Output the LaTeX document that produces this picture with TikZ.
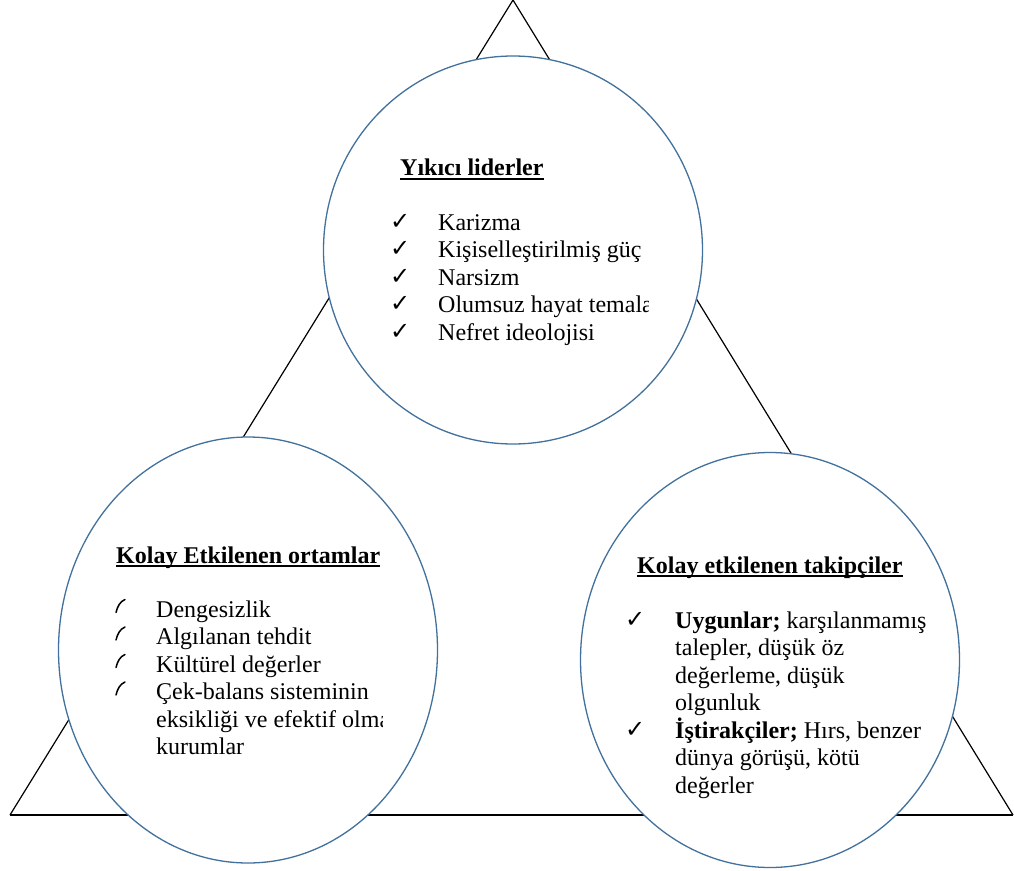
\documentclass[tikz,border=0pt]{standalone}
\usepackage{fontspec}
\setmainfont{Liberation Serif}
\newfontfamily\symfont{DejaVu Sans}
\usetikzlibrary{shapes.geometric}
\definecolor{circ}{RGB}{65,113,156}
\definecolor{baseline}{RGB}{89,89,89}
\begin{document}
\begin{tikzpicture}[x=1pt,y=-1pt,
  txt/.style={anchor=base west, inner sep=0pt, font=\fontsize{24}{27.5}\selectfont},
  ttl/.style={anchor=base west, inner sep=0pt, font=\fontsize{24}{27.5}\selectfont\bfseries},
  chk/.style={anchor=base west, inner sep=0pt, font=\symfont\fontsize{24}{26}\selectfont},
  bubble/.style={draw=circ, line width=1.3pt, fill=white, ellipse, inner sep=0pt},
  uline/.style={line width=1.4pt},
  hook/.style={line width=1.5pt, line cap=round}]
\useasboundingbox (0,0) rectangle (1014,870);
% triangle
\coordinate (A) at (513,0);
\coordinate (B) at (10,815);
\coordinate (C) at (1013,815);
\draw[line width=1.2pt] (B) -- (A) -- (C);
\draw[baseline, line width=2pt] (B) -- (C);
% circles
\node[bubble, minimum width=379pt, minimum height=388pt] (top) at (513,250) {};
\node[bubble, minimum width=379pt, minimum height=426pt] (left) at (248,650) {};
\node[bubble, minimum width=379pt, minimum height=415pt] (right) at (770,660) {};
% top text
\node[ttl] (t1) at (400,175) {Yıkıcı liderler};
\draw[uline] ([yshift=-4pt]t1.base west) -- ([yshift=-4pt]t1.base east);
\begin{scope}
\clip (380,190) rectangle (648,360);
\foreach \y/\s [count=\i] in {230/Karizma,257.5/Kişiselleştirilmiş güç,285/Narsizm,312.5/Olumsuz hayat temalar,340/Nefret ideolojisi}{
  \node[chk] (tc\i) at (390,\y-1) {✓};
  \node[txt] (tl\i) at (438,\y) {\s};
}
\end{scope}
% left text
\begin{scope}
\clip (100,530) rectangle (382,780);
\node[ttl] (t2) at (116,563) {Kolay Etkilenen ortamlar\ };
\draw[uline] ([yshift=-3pt]t2.base west) -- ([yshift=-3pt]t2.base east);
\foreach \y/\s [count=\i] in {617/Dengesizlik,644.5/Algılanan tehdit,672/Kültürel değerler,699.5/Çek-balans sisteminin,727/eksikliği ve efektif olmayan,754.5/kurumlar}{
  \node[txt] (ll\i) at (156,\y) {\s};
}
\foreach \y [count=\i] in {612.5,640,667.5,695}{
  \coordinate (lh\i) at (116,\y);
  \draw[hook] (lh\i) .. controls ([shift={(1.5,-6)}]lh\i) and ([shift={(4,-11)}]lh\i) .. ([shift={(9,-13)}]lh\i);
}
\end{scope}
% right text
\node[ttl] (t3) at (637,573) {Kolay etkilenen takipçiler\ };
\draw[uline] ([yshift=-3pt]t3.base west) -- ([yshift=-3pt]t3.base east);
\node[chk] (rc1) at (625,627) {✓};
\node[chk] (rc2) at (625,737) {✓};
\node[txt] (rl1) at (675,628) {\textbf{Uygunlar;} karşılanmamış};
\node[txt] (rl2) at (675,655.5) {talepler, düşük öz};
\node[txt] (rl3) at (675,683) {değerleme, düşük};
\node[txt] (rl4) at (675,710.5) {olgunluk};
\node[txt] (rl5) at (675,738) {\textbf{İştirakçiler;} Hırs, benzer};
\node[txt] (rl6) at (675,765.5) {dünya görüşü, kötü};
\node[txt] (rl7) at (675,793) {değerler};
\end{tikzpicture}
\end{document}
